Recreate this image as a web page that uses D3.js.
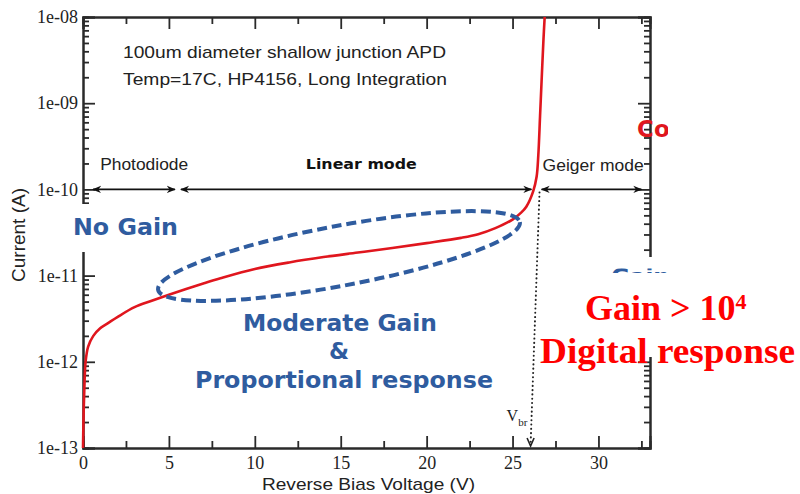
<!DOCTYPE html>
<html>
<head>
<meta charset="utf-8">
<script src="https://cdn.jsdelivr.net/npm/d3@7"></script>
<style>
  body { margin: 0; background: #fff; }
  svg { display: block; }
</style>
</head>
<body>
<script>
// measured I-V curve (reverse bias, 17C)
const voltage = [0, 0.03, 0.08, 0.15, 0.3, 0.6, 1, 1.5, 2, 3, 4, 5, 6, 7, 8, 10, 12, 14, 16, 18, 20, 22, 23, 24, 25, 25.5, 25.8, 26.2, 26.4, 26.5, 26.6, 26.7, 26.8, 26.87];
const current = [1e-13, 2.2e-13, 5e-13, 1e-12, 1.5e-12, 2e-12, 2.45e-12, 2.85e-12, 3.3e-12, 4.3e-12, 5.1e-12, 6e-12, 7e-12, 8.1e-12, 9.3e-12, 1.19e-11, 1.42e-11, 1.64e-11, 1.85e-11, 2.09e-11, 2.38e-11, 2.74e-11, 3.02e-11, 3.55e-11, 4.47e-11, 5.37e-11, 6.3e-11, 9.5e-11, 1.4e-10, 2.5e-10, 7e-10, 2e-9, 5.5e-9, 1e-8];

const xMajorTicks = [0, 5, 10, 15, 20, 25, 30];
const xTickLabels = ["0", "5", "10", "15", "20", "25", "30"];
const xMinorTicks = [2.5, 7.5, 12.5, 17.5, 22.5, 27.5, 32.5];
const yMajorTicks = [1e-13, 1e-12, 1e-11, 1e-10, 1e-9, 1e-8];
const yTickLabels = ["1e-13", "1e-12", "1e-11", "1e-10", "1e-09", "1e-08"];

// operating regions marked along the 1e-10 line
const regionNames = ["Photodiode", "Linear mode", "Geiger mode"];
const regionFrom = [0.58, 5.7, 26.69];
const regionTo = [5.35, 26.1, 32.5];
const vbr = [26.57, 26.05];

const titleLines = ["100um diameter shallow junction APD", "Temp=17C, HP4156, Long Integration"];

const W = 800, H = 494;
const margin = { top: 17, right: 150, bottom: 46, left: 83 };
const iw = W - margin.left - margin.right;
const ih = H - margin.top - margin.bottom;

const RED = "#e0161e", BLUE = "#2f5c9f", AXIS = "#2a2a2a";
const SANS = "'Liberation Sans', Arial, sans-serif";
const SERIF = "'Liberation Serif', 'Times New Roman', serif";
const BOLD = "'DejaVu Sans', Verdana, sans-serif";

const svg = d3.select("body").append("svg").attr("width", W).attr("height", H);
const defs = svg.append("defs");
defs.append("marker").attr("id", "ah")
  .attr("viewBox", "0 0 10 10").attr("refX", 9).attr("refY", 5)
  .attr("markerWidth", 9).attr("markerHeight", 9).attr("markerUnits", "userSpaceOnUse")
  .attr("orient", "auto-start-reverse")
  .append("path").attr("d", "M0,1 L10,5 L0,9 L3,5 Z").attr("fill", "#111");

const x = d3.scaleLinear().domain([0, 33]).range([0, iw]);
const y = d3.scaleLog().domain([1e-13, 1e-8]).range([ih, 0]);

const g = svg.append("g").attr("transform", `translate(${margin.left},${margin.top})`);

// log minor ticks
const yMinor = [];
yMajorTicks.slice(0, -1).forEach(t => { for (let k = 2; k <= 9; k++) yMinor.push(t * k); });

function styleAxis(sel) {
  sel.select(".domain").attr("stroke", AXIS).attr("stroke-width", 2);
  sel.selectAll(".tick line").attr("stroke", AXIS).attr("stroke-width", 1.8);
}

// minor ticks first
g.append("g").attr("transform", `translate(0,${ih})`)
  .call(d3.axisBottom(x).tickValues(xMinorTicks).tickSize(-7).tickFormat(""))
  .call(styleAxis);
g.append("g").call(d3.axisTop(x).tickValues(xMinorTicks).tickSize(-7).tickFormat(""))
  .call(styleAxis);
g.append("g").call(d3.axisLeft(y).tickValues(yMinor).tickSize(-6).tickFormat(""))
  .call(styleAxis);
g.append("g").attr("transform", `translate(${iw},0)`)
  .call(d3.axisRight(y).tickValues(yMinor).tickSize(-6).tickFormat(""))
  .call(styleAxis);

// major ticks
const xb = g.append("g").attr("transform", `translate(0,${ih})`)
  .call(d3.axisBottom(x).tickValues(xMajorTicks).tickSize(-12).tickPadding(8)
    .tickFormat((d, i) => xTickLabels[i]))
  .call(styleAxis);
g.append("g").call(d3.axisTop(x).tickValues(xMajorTicks).tickSize(-12).tickFormat(""))
  .call(styleAxis);
const yl = g.append("g")
  .call(d3.axisLeft(y).tickValues(yMajorTicks).tickSize(-12).tickPadding(5)
    .tickFormat((d, i) => yTickLabels[i]))
  .call(styleAxis);
g.append("g").attr("transform", `translate(${iw},0)`)
  .call(d3.axisRight(y).tickValues(yMajorTicks).tickSize(-12).tickFormat(""))
  .call(styleAxis);

[xb, yl].forEach(a => a.selectAll("text")
  .attr("font-family", SERIF).attr("font-size", 18).attr("fill", "#222"));

// axis titles
g.append("text").attr("x", iw / 2 + 2).attr("y", ih + 42)
  .attr("text-anchor", "middle").attr("font-family", SANS).attr("font-size", 17)
  .attr("fill", "#222").attr("textLength", 213).attr("lengthAdjust", "spacingAndGlyphs")
  .text("Reverse Bias Voltage (V)");
svg.append("text").attr("transform", "translate(25,235) rotate(-90)")
  .attr("text-anchor", "middle").attr("font-family", SANS).attr("font-size", 19)
  .attr("fill", "#222").text("Current (A)");

// header text
titleLines.forEach((t, i) => {
  svg.append("text").attr("x", 123).attr("y", 58 + i * 27)
    .attr("font-family", SANS).attr("font-size", 17).attr("fill", "#222")
    .attr("textLength", i === 0 ? 323 : 324).attr("lengthAdjust", "spacingAndGlyphs")
    .text(t);
});

// region arrows at 1e-10
const y10 = y(1e-10);
regionNames.forEach((name, i) => {
  g.append("line")
    .attr("x1", x(regionFrom[i])).attr("x2", x(regionTo[i]))
    .attr("y1", y10).attr("y2", y10)
    .attr("stroke", "#111").attr("stroke-width", 1.6)
    .attr("marker-start", "url(#ah)").attr("marker-end", "url(#ah)");
});
g.append("text").attr("x", x(1.0)).attr("y", y10 - 19)
  .attr("font-family", SANS).attr("font-size", 17).attr("fill", "#222")
  .attr("textLength", 88).attr("lengthAdjust", "spacingAndGlyphs").text(regionNames[0]);
g.append("text").attr("x", x(16.2)).attr("y", y10 - 20).attr("text-anchor", "middle")
  .attr("font-family", BOLD).attr("font-weight", "bold").attr("font-size", 13.5).attr("fill", "#111")
  .attr("textLength", 111).attr("lengthAdjust", "spacingAndGlyphs").text(regionNames[1]);
g.append("text").attr("x", x(26.75)).attr("y", y10 - 18)
  .attr("font-family", SANS).attr("font-size", 17).attr("fill", "#222")
  .attr("textLength", 101).attr("lengthAdjust", "spacingAndGlyphs").text(regionNames[2]);

// Vbr dotted guide
g.append("line")
  .attr("x1", x(vbr[0])).attr("y1", y10 + 3)
  .attr("x2", x(vbr[1])).attr("y2", ih - 3)
  .attr("stroke", "#222").attr("stroke-width", 2)
  .attr("stroke-dasharray", "0.1,4.2").attr("stroke-linecap", "round");
g.append("path")
  .attr("d", `M${x(vbr[1]) - 3.5},${ih - 10} L${x(vbr[1])},${ih - 2} L${x(vbr[1]) + 3.5},${ih - 10}`)
  .attr("fill", "none").attr("stroke", "#222").attr("stroke-width", 1.6);
const vt = g.append("text").attr("x", x(vbr[1]) - 24).attr("y", ih - 27)
  .attr("font-family", SERIF).attr("font-size", 16).attr("fill", "#222");
vt.append("tspan").text("V");
vt.append("tspan").attr("font-size", 11).attr("dy", 5).text("br");

// the I-V curve
const pts = voltage.map((v, i) => [v, current[i]]);
g.append("path").datum(pts)
  .attr("d", d3.line().x(d => x(d[0])).y(d => y(d[1])).curve(d3.curveCatmullRom.alpha(0.5)))
  .attr("fill", "none").attr("stroke", RED).attr("stroke-width", 2.6);

// dashed ellipse around the linear-mode region
svg.append("ellipse")
  .attr("transform", "translate(339,256) rotate(-10.6)")
  .attr("rx", 184).attr("ry", 30)
  .attr("fill", "none").attr("stroke", BLUE).attr("stroke-width", 4)
  .attr("stroke-dasharray", "10,5");

// blue annotations
function blue(txt, xx, yy, anchor, len) {
  const t = svg.append("text").attr("x", xx).attr("y", yy).attr("text-anchor", anchor)
    .attr("font-family", BOLD).attr("font-weight", "bold").attr("font-size", 23)
    .attr("fill", BLUE).text(txt);
  if (len) t.attr("textLength", len).attr("lengthAdjust", "spacingAndGlyphs");
  return t;
}
// "No Gain" sits on its own white box, hiding part of the left axis
svg.append("rect").attr("x", 66).attr("y", 204).attr("width", 122).attr("height", 48).attr("fill", "#fff");
blue("No Gain", 73, 235, "start", 105);
blue("Moderate Gain", 340, 331, "middle", 194);
blue("&", 339, 359, "middle");
blue("Proportional response", 344, 388, "middle", 298);

// pasted-over area on the right (slide overlay)
svg.append("rect").attr("x", 575).attr("y", 257).attr("width", 225).attr("height", 100).attr("fill", "#fff");
defs.append("clipPath").attr("id", "frag").append("rect").attr("x", 600).attr("y", 268.5).attr("width", 70).attr("height", 4.5);
svg.append("text").attr("x", 611).attr("y", 285).attr("clip-path", "url(#frag)")
  .attr("font-family", BOLD).attr("font-weight", "bold").attr("font-size", 23).attr("fill", BLUE)
  .text("Gain");
defs.append("clipPath").attr("id", "co").append("rect").attr("x", 600).attr("y", 100).attr("width", 68).attr("height", 50);
svg.append("text").attr("x", 637).attr("y", 137).attr("clip-path", "url(#co)")
  .attr("font-family", BOLD).attr("font-weight", "bold").attr("font-size", 23).attr("fill", RED)
  .text("Co");

// red callout
const r1 = svg.append("text").attr("x", 585).attr("y", 320)
  .attr("font-family", SERIF).attr("font-weight", "bold").attr("font-size", 36).attr("fill", "#f00");
r1.append("tspan").text("Gain > 10");
r1.append("tspan").attr("font-size", 22).attr("dy", -11).text("4");
svg.append("text").attr("x", 540).attr("y", 363)
  .attr("font-family", SERIF).attr("font-weight", "bold").attr("font-size", 36).attr("fill", "#f00")
  .attr("textLength", 255).attr("lengthAdjust", "spacingAndGlyphs")
  .text("Digital response");
</script>
</body>
</html>
